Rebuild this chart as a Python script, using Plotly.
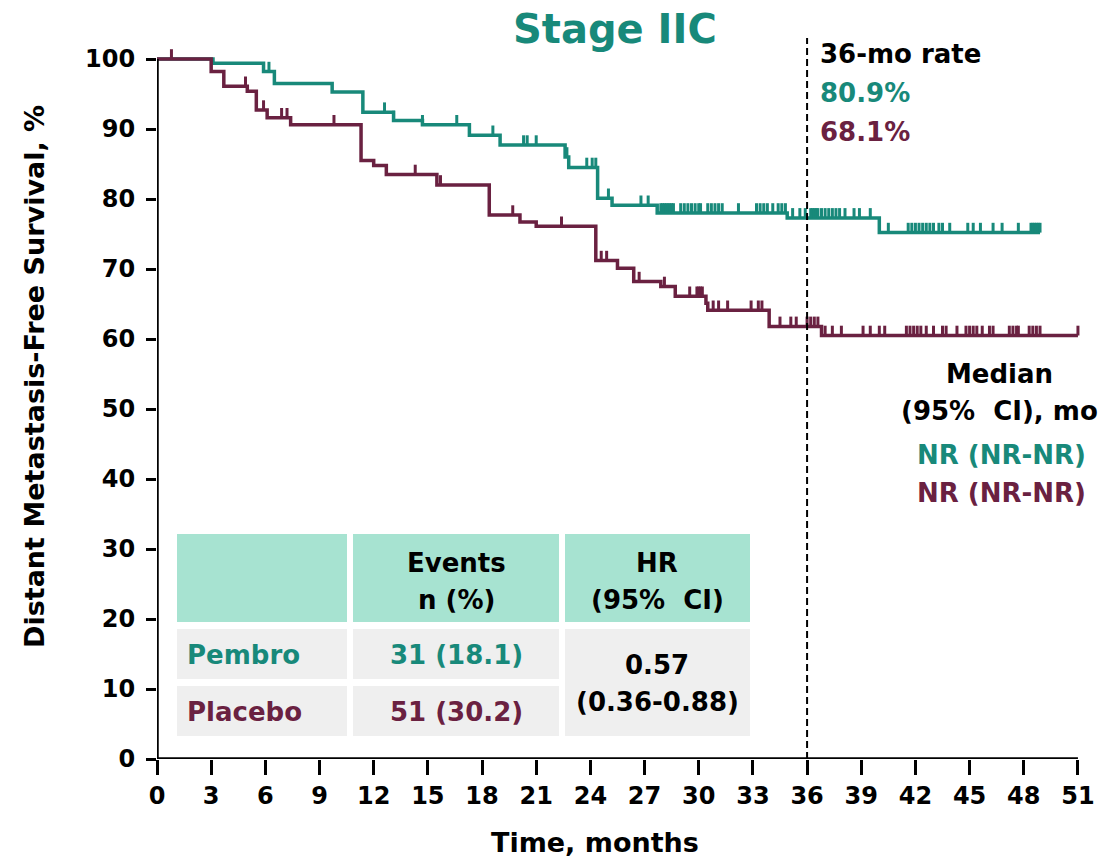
import plotly.graph_objects as go

# ---- Kaplan-Meier step data (time in months, survival % after each step) ----
pembro_times = [0, 3.1, 5.9, 6.5, 9.7, 11.4, 13.1, 14.7, 17.3, 19.0, 22.6, 22.8,
                24.4, 25.2, 27.7, 34.9, 40.0]
pembro_surv = [100, 99.4, 98.2, 96.5, 95.3, 92.4, 91.2, 90.6, 89.1, 87.7, 86.0, 84.5,
               80.1, 79.1, 78.0, 77.3, 75.2]
pembro_last = 48.9
pembro_censor = [6.2, 12.6, 13.1, 14.7, 16.6, 18.6, 20.3, 20.5, 21.0, 22.7, 23.8, 24.1,
                 24.3, 25.0, 26.8, 27.2, 27.9, 28.0, 28.1, 28.2, 28.3, 28.4, 28.5, 28.6,
                 29.0, 29.2, 29.4, 29.6, 29.8, 30.0, 30.1, 30.5, 30.7, 30.9, 31.1, 31.3,
                 32.2, 33.2, 33.4, 33.6, 33.8, 34.1, 34.4, 34.6, 34.8, 35.2, 35.6, 35.9,
                 36.2, 36.3, 36.4, 36.5, 36.6, 36.8, 37.0, 37.2, 37.4, 37.6, 37.8, 38.1,
                 38.6, 38.9, 39.5, 40.5, 41.6, 41.8, 42.0, 42.2, 42.4, 42.6, 42.8, 43.0,
                 43.3, 43.5, 43.9, 44.9, 45.2, 45.6, 46.3, 46.8, 47.7, 48.4, 48.5, 48.6,
                 48.7, 48.8, 48.9]

placebo_times = [0, 3.0, 3.7, 5.0, 5.5, 6.1, 7.4, 11.3, 12.0, 12.7, 15.5, 18.4, 20.1,
                 21.0, 24.3, 25.5, 26.4, 27.9, 28.7, 30.4, 30.5, 33.9, 36.8]
placebo_surv = [100, 98.2, 96.1, 95.4, 92.7, 91.6, 90.6, 85.5, 84.8, 83.5, 82.0, 77.7,
                76.7, 76.1, 71.2, 70.1, 68.2, 67.5, 66.1, 65.1, 64.1, 61.8, 60.5]
placebo_last = 51.0
placebo_censor = [0.8, 4.9, 5.9, 6.9, 7.2, 9.8, 14.3, 15.7, 19.7, 22.4, 24.6, 24.9,
                  26.7, 28.1, 29.5, 29.9, 30.0, 30.1, 30.2, 30.8, 31.1, 31.6, 32.9, 33.3,
                  33.5, 34.5, 35.1, 35.4, 36.0, 36.2, 36.4, 36.6, 37.0, 37.4, 37.9, 39.1,
                  39.5, 40.0, 40.3, 41.5, 41.7, 41.9, 42.1, 42.3, 42.6, 43.0, 43.5, 43.7,
                  44.3, 44.8, 45.0, 45.2, 45.4, 45.7, 46.1, 46.3, 47.2, 47.4, 47.6, 47.7,
                  48.3, 48.5, 48.7, 48.9, 51.0]

x_ticks = list(range(0, 52, 3))
y_ticks = list(range(0, 101, 10))

rate_36 = ["80.9%", "68.1%"]
median_text = ["NR (NR-NR)", "NR (NR-NR)"]
arm_names = ["Pembro", "Placebo"]
events = ["31 (18.1)", "51 (30.2)"]
hr_text = ["0.57", "(0.36-0.88)"]

TEAL = "#18897a"
MAROON = "#6a2141"
HEAD_BG = "#a7e3d1"
ROW_BG = "#efefef"
FONT = "DejaVu Sans"

# ---- page geometry ----
W, H = 1120, 859
L, R, T, B = 157, 24, 38, 100
PW, PH = W - L - R, H - T - B


def px(xp):
    return (xp - L) / PW


def py(yp):
    return (H - B - yp) / PH


def level(times, surv, t):
    val = surv[0]
    for ti, si in zip(times, surv):
        if ti <= t:
            val = si
    return val


def censor_segments(times, surv, cens, h=1.4):
    xs, ys = [], []
    for c in cens:
        s = level(times, surv, c)
        xs += [c, c, None]
        ys += [s, s + h, None]
    return xs, ys


fig = go.Figure()

for times, surv, last, cens, col in [
    (pembro_times, pembro_surv, pembro_last, pembro_censor, TEAL),
    (placebo_times, placebo_surv, placebo_last, placebo_censor, MAROON),
]:
    fig.add_trace(go.Scatter(
        x=times + [last], y=surv + [surv[-1]], mode="lines",
        line=dict(color=col, width=3.5, shape="hv"), showlegend=False, hoverinfo="skip"))
    cx, cy = censor_segments(times, surv, cens)
    fig.add_trace(go.Scatter(
        x=cx, y=cy, mode="lines", line=dict(color=col, width=3),
        showlegend=False, hoverinfo="skip"))

shapes = []
# axis lines
shapes.append(dict(type="line", xref="x", yref="y", x0=0, x1=0, y0=0, y1=100,
                   line=dict(color="black", width=3.5)))
shapes.append(dict(type="line", xref="x", yref="y", x0=0, x1=51, y0=0, y1=0,
                   line=dict(color="black", width=3.5)))
# 36-month reference line
shapes.append(dict(type="line", xref="x", yref="paper", x0=36, x1=36, y0=0, y1=1,
                   line=dict(color="black", width=2, dash="7px,4px")))

# summary table cells
cols = [(177, 347), (353, 559), (565, 750)]
head = (534, 622)
rows = [(629, 679), (686, 736)]
for x0, x1 in cols:
    shapes.append(dict(type="rect", xref="paper", yref="paper", x0=px(x0), x1=px(x1),
                       y0=py(head[1]), y1=py(head[0]), fillcolor=HEAD_BG,
                       line=dict(width=0), layer="below"))
for x0, x1 in cols[:2]:
    for r0, r1 in rows:
        shapes.append(dict(type="rect", xref="paper", yref="paper", x0=px(x0), x1=px(x1),
                           y0=py(r1), y1=py(r0), fillcolor=ROW_BG,
                           line=dict(width=0), layer="below"))
shapes.append(dict(type="rect", xref="paper", yref="paper", x0=px(cols[2][0]),
                   x1=px(cols[2][1]), y0=py(rows[1][1]), y1=py(rows[0][0]),
                   fillcolor=ROW_BG, line=dict(width=0), layer="below"))

ann = []


def txt(text, xp, yp, size=26, color="black", xanchor="center", angle=0):
    ann.append(dict(text=f"<b>{text}</b>", xref="paper", yref="paper", x=px(xp),
                    y=py(yp), xanchor=xanchor, yanchor="middle", showarrow=False,
                    textangle=angle, font=dict(family=FONT, size=size, color=color)))


txt("Stage IIC", 615, 29, size=40, color=TEAL)
txt("36-mo rate", 818, 54, xanchor="left")
txt(rate_36[0], 818, 93, color=TEAL, xanchor="left")
txt(rate_36[1], 818, 132, color=MAROON, xanchor="left")
txt("Median", 999, 374)
txt("(95%  CI), mo", 999, 411)
txt(median_text[0], 1001, 455, color=TEAL)
txt(median_text[1], 1001, 493, color=MAROON)

txt("Events", 456, 563)
txt("n (%)", 456, 600)
txt("HR", 657, 563)
txt("(95%  CI)", 657, 600)
txt(arm_names[0], 185, 655, color=TEAL, xanchor="left")
txt(arm_names[1], 185, 712, color=MAROON, xanchor="left")
txt(events[0], 456, 655, color=TEAL)
txt(events[1], 456, 712, color=MAROON)
txt(hr_text[0], 657, 665)
txt(hr_text[1], 657, 702)

txt("Time, months", 595, 842, size=27)
txt("Distant Metastasis-Free Survival, %", 34, 377, size=27, angle=-90)

fig.update_layout(
    width=W, height=H, margin=dict(l=L, r=R, t=T, b=B),
    paper_bgcolor="white", plot_bgcolor="white",
    shapes=shapes, annotations=ann,
    xaxis=dict(range=[0, 52], tickvals=x_ticks, ticktext=[str(v) for v in x_ticks],
               showgrid=False, zeroline=False, showline=False,
               ticks="outside", ticklen=15, tickwidth=3, tickcolor="black",
               tickfont=dict(family=FONT, size=24, color="black", weight="bold")),
    yaxis=dict(range=[0, 103], tickvals=y_ticks, ticktext=[str(v) for v in y_ticks],
               showgrid=False, zeroline=False, showline=False,
               ticks="outside", ticklen=10, tickwidth=3, tickcolor="black",
               ticklabelstandoff=6,
               tickfont=dict(family=FONT, size=24, color="black", weight="bold")),
)

fig.write_html("out.html")
